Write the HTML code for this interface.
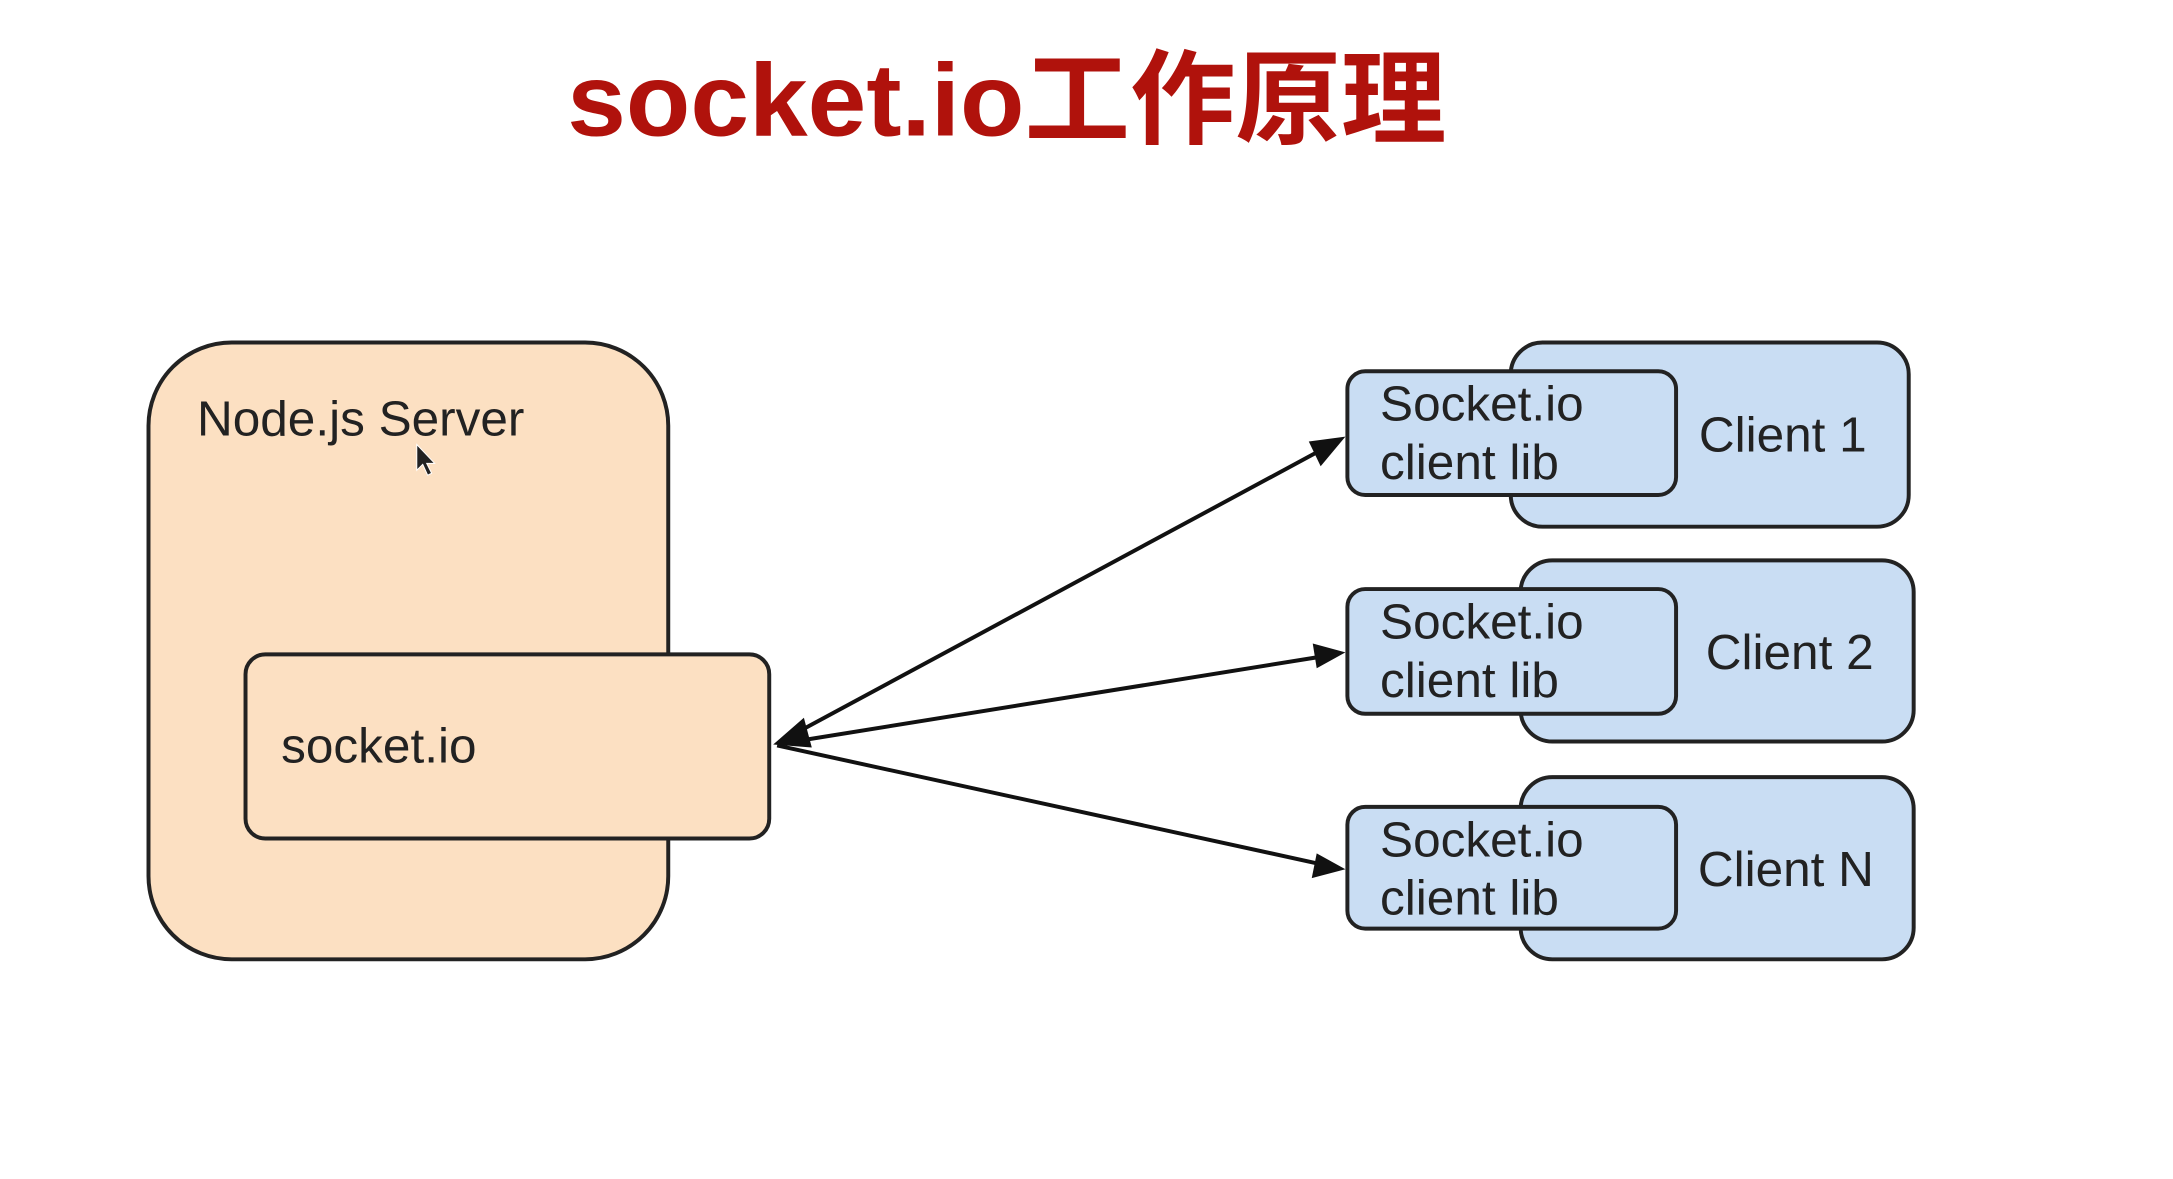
<!DOCTYPE html>
<html><head><meta charset="utf-8"><style>
html,body{margin:0;padding:0;background:#fff;}
body{width:2173px;height:1179px;overflow:hidden;position:relative;}
</style></head><body>
<svg width="2173" height="1179" viewBox="0 0 2173 1179" xmlns="http://www.w3.org/2000/svg" style="position:absolute;left:0;top:0">
<g transform="scale(0.99)">
<text x="573" y="137" font-family="'Liberation Sans','Noto Sans CJK SC',sans-serif" font-weight="bold" font-size="104" fill="#b0120c" textLength="888" lengthAdjust="spacingAndGlyphs">socket.io工作原理</text>

<rect x="150" y="346" width="525" height="623" rx="84" fill="#fce0c2" stroke="#222" stroke-width="4"/>
<rect x="248" y="661" width="529" height="186" rx="20" fill="#fce0c2" stroke="#222" stroke-width="4"/>
<text x="199" y="440" font-family="'Liberation Sans',sans-serif" font-size="50" fill="#222">Node.js Server</text>
<text x="284" y="770" font-family="'Liberation Sans',sans-serif" font-size="50" fill="#222">socket.io</text>
<path d="M421 449 l0 26 l6 -6 l5 11 l4 -2 l-5 -10 l8 0 z" fill="#222" stroke="#fff" stroke-width="1"/>

<g font-family="'Liberation Sans',sans-serif" font-size="50" fill="#222">
<rect x="1526" y="346" width="402" height="186" rx="32" fill="#c9ddf3" stroke="#222" stroke-width="4"/>
<rect x="1361" y="375" width="332" height="125" rx="18" fill="#c9ddf3" stroke="#222" stroke-width="4"/>
<text x="1394" y="425">Socket.io</text><text x="1394" y="484">client lib</text>
<text x="1716" y="456">Client 1</text>

<rect x="1536" y="566" width="397" height="183" rx="32" fill="#c9ddf3" stroke="#222" stroke-width="4"/>
<rect x="1361" y="595" width="332" height="126" rx="18" fill="#c9ddf3" stroke="#222" stroke-width="4"/>
<text x="1394" y="645">Socket.io</text><text x="1394" y="704">client lib</text>
<text x="1723" y="676">Client 2</text>

<rect x="1536" y="785" width="397" height="184" rx="32" fill="#c9ddf3" stroke="#222" stroke-width="4"/>
<rect x="1361" y="815" width="332" height="123" rx="18" fill="#c9ddf3" stroke="#222" stroke-width="4"/>
<text x="1394" y="865">Socket.io</text><text x="1394" y="924">client lib</text>
<text x="1715" y="895">Client N</text>
</g>

<g stroke="#111" stroke-width="4" fill="none">
<line x1="790" y1="748" x2="1330" y2="457"/>
<line x1="790" y1="751" x2="1330" y2="664"/>
<line x1="785" y1="753" x2="1330" y2="872"/>
</g>
<g fill="#111">
<polygon points="781,752 812,725 820,755"/>
<polygon points="1359,441 1322,446 1334,471"/>
<polygon points="1359,659 1326,650 1330,675"/>
<polygon points="1359,878 1330,862 1325,887"/>
</g>
</g>
</svg>
</body></html>
